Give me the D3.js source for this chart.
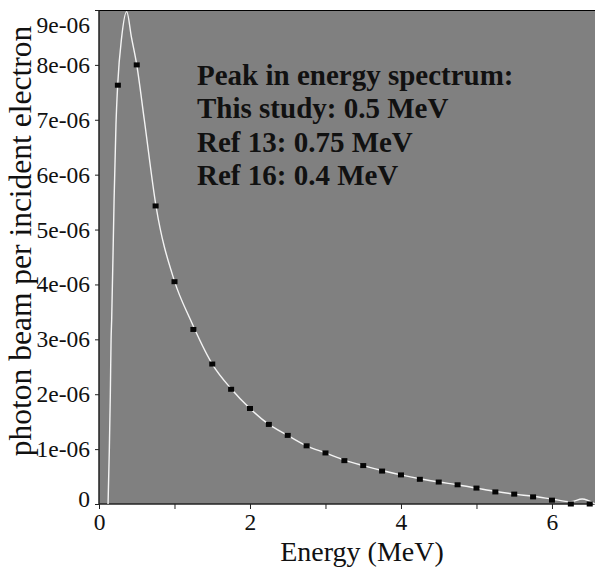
<!DOCTYPE html>
<html>
<head>
<meta charset="utf-8">
<script src="https://cdn.jsdelivr.net/npm/d3@7"></script>
<style>
  html, body { margin: 0; padding: 0; background: #fff; }
  svg { display: block; font-family: "Liberation Serif", "Times New Roman", serif; }
</style>
</head>
<body>
<div id="chart"></div>
<script>
// values, y in units of 1e-6
var curveE = [0.12, 0.137, 0.15, 0.16, 0.168, 0.2, 0.225, 0.248, 0.3, 0.367, 0.43, 0.5, 0.6, 0.756, 1.0, 1.21,
              1.5, 1.75, 2.0, 2.25, 2.5, 2.75, 3.0, 3.25, 3.5, 3.75, 4.0, 4.25, 4.5, 4.75, 5.0, 5.25, 5.5, 5.75,
              6.0, 6.25, 6.4, 6.57];
var curveY = [0, 1.0, 2.0, 3.0, 3.36, 5.55, 6.92, 7.65, 8.5, 8.97, 8.5, 8.0, 7.0, 5.42, 4.06, 3.36,
              2.55, 2.1, 1.74, 1.45, 1.25, 1.06, 0.93, 0.8, 0.7, 0.61, 0.53, 0.46, 0.4, 0.35, 0.29, 0.23, 0.18, 0.14,
              0.09, 0.04, 0.09, 0.0];

var markE = [0.25, 0.5, 0.75, 1.0, 1.25, 1.5, 1.75, 2.0, 2.25, 2.5, 2.75, 3.0, 3.25, 3.5, 3.75, 4.0, 4.25,
             4.5, 4.75, 5.0, 5.25, 5.5, 5.75, 6.0, 6.25, 6.5];
var markY = [7.63, 8.0, 5.43, 4.05, 3.18, 2.55, 2.09, 1.74, 1.45, 1.25, 1.06, 0.93, 0.79, 0.7, 0.6, 0.53, 0.45,
             0.4, 0.35, 0.29, 0.22, 0.18, 0.13, 0.07, 0.0, 0.0];

var xTicks = [0, 1, 2, 3, 4, 5, 6];
var xTickLabels = ["0", "", "2", "", "4", "", "6"];
var yTicks = [0, 1, 2, 3, 4, 5, 6, 7, 8, 9];
var yTickLabels = ["0", "1e-06", "2e-06", "3e-06", "4e-06", "5e-06", "6e-06", "7e-06", "8e-06", "9e-06"];

var notes = ["Peak in energy spectrum:", "This study: 0.5 MeV", "Ref 13: 0.75 MeV", "Ref 16: 0.4 MeV"];

(function () {
var W = 595, H = 568,
    pLeft = 99, pTop = 10, pRight = 595, pBottom = 504;

var x = d3.scaleLinear().domain([0, 6.57]).range([pLeft, pRight]),
    y = d3.scaleLinear().domain([0, 9]).range([pBottom, pTop]);

var svg = d3.select('#chart').append('svg')
    .attr('width', W)
    .attr('height', H);

svg.append('rect')
    .attr('x', pLeft).attr('y', pTop)
    .attr('width', pRight - pLeft).attr('height', pBottom - pTop)
    .attr('fill', '#808080');

// top frame line
svg.append('line')
    .attr('x1', pLeft).attr('x2', pRight)
    .attr('y1', pTop + 0.5).attr('y2', pTop + 0.5)
    .attr('stroke', '#000').attr('stroke-width', 1.2);

var xAxis = d3.axisBottom(x)
    .tickValues(xTicks)
    .tickSize(5)
    .tickPadding(4)
    .tickFormat(function(d, i) { return xTickLabels[i]; });

var yAxis = d3.axisLeft(y)
    .tickValues(yTicks)
    .tickSize(4)
    .tickPadding(5)
    .tickFormat(function(d, i) { return yTickLabels[i]; });

var gx = svg.append('g')
    .attr('transform', 'translate(0,' + pBottom + ')')
    .call(xAxis);
var gy = svg.append('g')
    .attr('transform', 'translate(' + pLeft + ',0)')
    .call(yAxis);

[gx, gy].forEach(function(g) {
    g.select('.domain').attr('stroke', '#222').attr('stroke-width', 1.5);
    g.selectAll('.tick line').attr('stroke', '#222');
    g.selectAll('.tick text')
        .attr('fill', '#111')
        .style('font-family', '"Liberation Serif", serif')
        .style('font-size', '23.5px');
});
gx.select('.domain').attr('d', 'M' + pLeft + ',0H' + pRight);
gy.select('.domain').attr('d', 'M0,' + pTop + 'V' + pBottom);

// the top and bottom labels sit inside the frame in the picture
gy.selectAll('.tick text')
    .attr('dy', function(d) { return d === 9 ? '0.95em' : (d === 0 ? '0.1em' : '0.32em'); });

var line = d3.line()
    .x(function(d) { return x(d[0]); })
    .y(function(d) { return y(d[1]); })
    .curve(d3.curveMonotoneX);

svg.append('path')
    .attr('d', line(d3.zip(curveE, curveY)))
    .attr('fill', 'none')
    .attr('stroke', '#f4f4f4')
    .attr('stroke-width', 1.4);

svg.append('g').selectAll('rect')
    .data(d3.zip(markE, markY))
    .join('rect')
    .attr('x', function(d) { return x(d[0]) - 3; })
    .attr('y', function(d) { return y(d[1]) - 2.5; })
    .attr('width', 6)
    .attr('height', 5)
    .attr('fill', '#050505');

svg.append('g').selectAll('text')
    .data(notes)
    .join('text')
    .attr('x', 197)
    .attr('y', function(d, i) { return 85 + i * 33.3; })
    .attr('fill', '#111')
    .style('font-weight', 'bold')
    .style('font-size', '29px')
    .text(function(d) { return d; });

svg.append('text')
    .attr('x', 362)
    .attr('y', 561)
    .attr('text-anchor', 'middle')
    .attr('fill', '#111')
    .style('font-size', '28px')
    .text('Energy (MeV)');

svg.append('text')
    .attr('transform', 'translate(31,' + 241 + ') rotate(-90)')
    .attr('text-anchor', 'middle')
    .attr('fill', '#111')
    .style('font-size', '31.5px')
    .text('photon beam per incident electron');
})();
</script>
</body>
</html>
